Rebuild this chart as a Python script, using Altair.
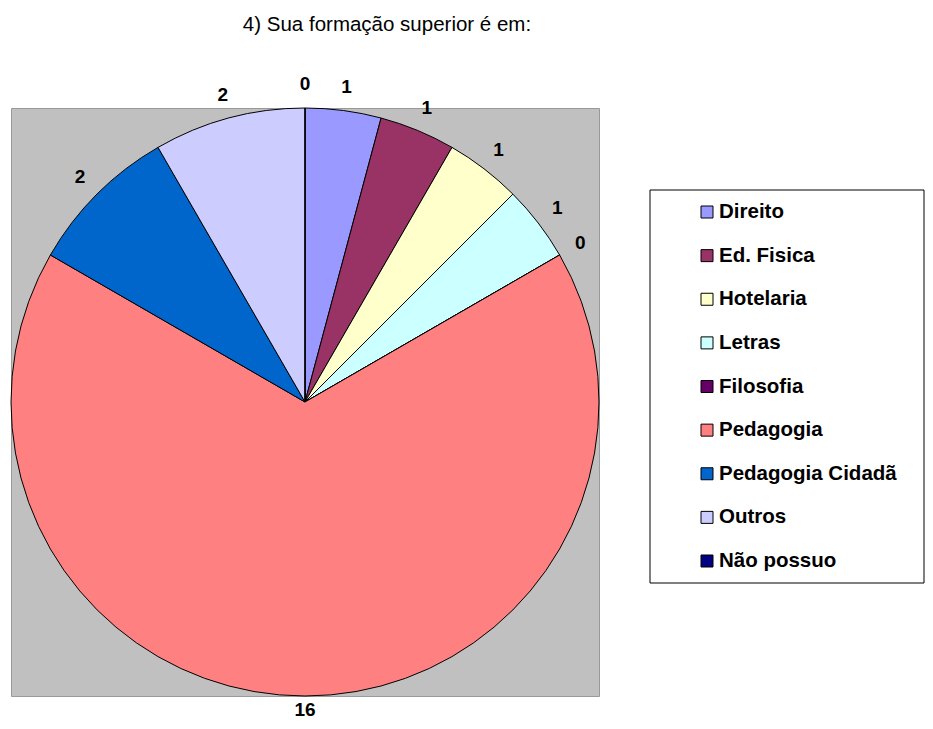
import altair as alt
import pandas as pd

# ---- data ----
titulo = "4) Sua formação superior é em:"
categorias = ["Direito", "Ed. Fisica", "Hotelaria", "Letras", "Filosofia",
              "Pedagogia", "Pedagogia Cidadã", "Outros", "Não possuo"]
valores = [1, 1, 1, 1, 0, 16, 2, 2, 0]
cores = ["#9999FF", "#993366", "#FFFFCC", "#CCFFFF", "#660066",
         "#FF8080", "#0066CC", "#CCCCFF", "#000080"]

df = pd.DataFrame({"categoria": categorias, "valor": valores,
                   "ordem": list(range(len(categorias)))})

FONT = "Arial, Liberation Sans, sans-serif"
color_scale = alt.Scale(domain=categorias, range=cores)

base = alt.Chart(df)

pie = base.mark_arc(outerRadius=294, stroke="black", strokeWidth=1).encode(
    theta=alt.Theta("valor:Q", stack=True),
    color=alt.Color("categoria:N", scale=color_scale, legend=None),
    order=alt.Order("ordem:Q"),
)

labels = base.mark_text(radius=318, font=FONT, fontSize=19, fontWeight="bold",
                        color="black",
                        dy=alt.expr("datum.valor > 10 ? -10 : 0")).encode(
    theta=alt.Theta("valor:Q", stack=True),
    order=alt.Order("ordem:Q"),
    text=alt.Text("valor:Q"),
)

# ---- legend (drawn from the category list through scales) ----
leg_y = alt.Scale(type="point", domain=categorias, range=[104, 453], padding=0)

leg_box = alt.Chart(pd.DataFrame({"k": [0]})).mark_rect(
    fill="white", stroke="black", strokeWidth=1).encode(
    x=alt.value(639), x2=alt.value(913), y=alt.value(82), y2=alt.value(475))

leg_sym = base.mark_square(size=144, stroke="black", strokeWidth=1, opacity=1).encode(
    x=alt.value(696),
    y=alt.Y("categoria:N", scale=leg_y, axis=None),
    color=alt.Color("categoria:N", scale=color_scale, legend=None),
)

leg_txt = base.mark_text(align="left", baseline="middle", font=FONT, fontSize=20.5,
                         fontWeight="bold", color="black").encode(
    x=alt.value(708),
    y=alt.Y("categoria:N", scale=leg_y, axis=None),
    text="categoria:N",
)

title = alt.Chart(pd.DataFrame({"t": [titulo]})).mark_text(
    align="center", baseline="alphabetic", font=FONT, fontSize=20.5,
    color="black").encode(x=alt.value(376), y=alt.value(-77), text="t:N")

chart = alt.layer(pie, labels, leg_box, leg_sym, leg_txt, title).properties(
    width=588, height=588,
    autosize=alt.AutoSizeParams(type="none"),
    padding={"left": 3, "top": 100, "right": 326, "bottom": 25},
    background="white",
).configure_view(fill="#C0C0C0", stroke="#999999", strokeWidth=1)

chart.save("out.html", embed_options={"renderer": "svg", "actions": False})
